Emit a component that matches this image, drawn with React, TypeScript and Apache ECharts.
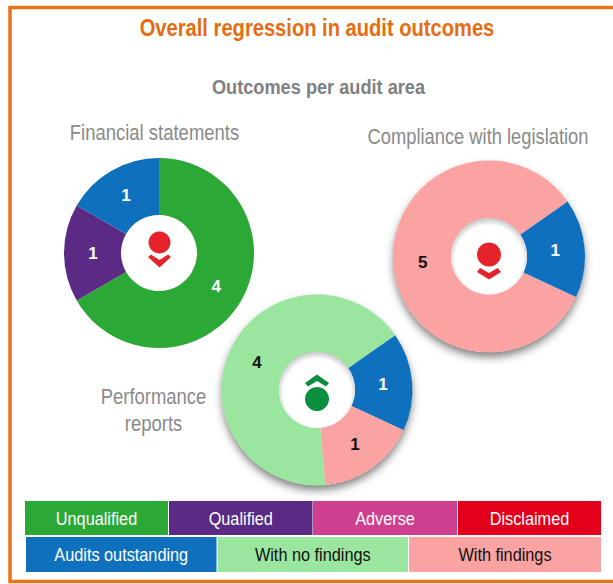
import React, { useEffect, useRef } from "react";
import * as echarts from "echarts";

const FONT = '"Liberation Sans", Arial, sans-serif';
const titleText = "Overall regression in audit outcomes";
const subtitleText = "Outcomes per audit area";
const legendRow1 = ["Unqualified", "Qualified", "Adverse", "Disclaimed"];
const legendRow2 = ["Audits outstanding", "With no findings", "With findings"];
const colors: Record<string, string> = {
  Unqualified: "#2ca836",
  Qualified: "#5a2a85",
  Adverse: "#cf3f8f",
  Disclaimed: "#e2001a",
  "Audits outstanding": "#0f71bd",
  "With no findings": "#9ae69f",
  "With findings": "#fba2a2",
};
const darkText = ["With no findings", "With findings"];
const financialNames = ["Unqualified", "Qualified", "Audits outstanding"];
const financialValues = [4, 1, 1];
const complianceNames = ["With findings", "Audits outstanding"];
const complianceValues = [5, 1];
const performanceNames = ["With no findings", "Audits outstanding", "With findings"];
const performanceValues = [4, 1, 1];

const pie = (names: string[], values: number[], center: number[], r: number, startAngle: number) => {
  const total = values.reduce((a, b) => a + b, 0);
  return {
    type: "pie",
    center,
    radius: [38, r],
    startAngle,
    clockwise: true,
    silent: true,
    avoidLabelOverlap: false,
    labelLine: { show: false },
    itemStyle: { borderWidth: 0 },
    // pull the value labels slightly towards the hole
    labelLayout: (p: any) => {
      const before = values.slice(0, p.dataIndex).reduce((a, b) => a + b, 0);
      const mid = ((startAngle - (360 * (before + values[p.dataIndex] / 2)) / total) * Math.PI) / 180;
      return { dx: -3.5 * Math.cos(mid), dy: 3.5 * Math.sin(mid) };
    },
    data: names.map((n, i) => ({
      name: n,
      value: values[i],
      itemStyle: { color: colors[n] },
      label: {
        show: true,
        position: "inside",
        formatter: "{c}",
        fontFamily: FONT,
        fontWeight: "bold",
        fontSize: 17,
        color: darkText.includes(n) ? "#111" : "#fff",
      },
    })),
  };
};

const backdrop = (cx: number, cy: number, r: number) => ({
  type: "circle",
  z: -1,
  shape: { cx, cy, r },
  style: { fill: "#fff", shadowBlur: 9, shadowOffsetY: 5, shadowColor: "rgba(0,0,0,0.5)" },
});

const holeShade = (cx: number, cy: number) => ({
  type: "circle",
  z: 5,
  shape: { cx, cy, r: 38 },
  style: {
    fill: {
      type: "radial",
      x: 0.5,
      y: 0.54,
      r: 0.54,
      colorStops: [
        { offset: 0, color: "#ffffff" },
        { offset: 0.82, color: "#ffffff" },
        { offset: 1, color: "#c4c4c4" },
      ],
    },
  },
});

const dot = (cx: number, cy: number, r: number, fill: string) => ({
  type: "circle",
  z: 6,
  shape: { cx, cy, r },
  style: { fill },
});

const arrow = (points: number[][], fill: string) => ({
  type: "polygon",
  z: 6,
  shape: { points },
  style: { fill },
});

const txt = (
  text: string,
  x: number,
  y: number,
  fontSize: number,
  fill: string,
  scaleX: number,
  fontWeight = "normal",
) => ({
  type: "text",
  z: 10,
  x,
  y,
  scaleX,
  style: { text, fill, fontSize, fontWeight, fontFamily: FONT, align: "center", verticalAlign: "middle" },
});

const legendCell = (name: string, x: number, y: number, w: number, h: number) => [
  { type: "rect", z: 8, shape: { x, y, width: w, height: h }, style: { fill: colors[name] } },
  txt(name, x + w / 2, y + h / 2 + 0.5, 18.5, darkText.includes(name) ? "#111" : "#fff", 0.88),
];

export default function App() {
  const ref = useRef<HTMLDivElement>(null);
  useEffect(() => {
    const chart = echarts.init(ref.current!, null, { renderer: "svg" });
    const row1X = [25, 169, 313, 458];
    const row1W = [143, 143.5, 144, 143];
    const row2X = [26, 217.5, 409];
    const row2W = [190.5, 190.5, 192];
    chart.setOption({
      animation: false,
      backgroundColor: "#fff",
      series: [
        pie(financialNames, financialValues, [159, 253], 95, 90),
        pie(complianceNames, complianceValues, [489, 256.5], 96, -25),
        pie(performanceNames, performanceValues, [317, 390], 95.5, -85),
      ],
      graphic: [
        {
          type: "rect",
          z: 9,
          shape: { x: 10, y: 7.5, width: 640, height: 574 },
          style: { fill: "transparent", stroke: "#e8731a", lineWidth: 3.5 },
        },
        txt(titleText, 317, 28, 23.5, "#e76c10", 0.857, "bold"),
        txt(subtitleText, 318.5, 87, 20.5, "#808080", 0.887, "bold"),
        txt("Financial statements", 154.5, 132, 22, "#8a8a8a", 0.84),
        txt("Compliance with legislation", 478, 136, 22, "#8a8a8a", 0.833),
        txt("Performance", 153.5, 396, 22, "#8a8a8a", 0.84),
        txt("reports", 153.5, 423, 22, "#8a8a8a", 0.84),
        backdrop(489, 256.5, 95.5),
        backdrop(317, 390, 95),
        holeShade(489, 256),
        holeShade(317, 389.5),
        dot(159.5, 242.5, 11, "#e5232b"),
        arrow([[148, 257], [151, 254.5], [159.5, 260], [168, 254.5], [171, 257], [159.5, 267.5]], "#e5232b"),
        dot(489, 254.5, 12, "#e5232b"),
        arrow([[477, 272], [480, 268], [489, 273], [497.5, 268], [501, 272], [489, 279.5]], "#e5232b"),
        dot(317, 399, 12, "#0a8f3f"),
        arrow([[305, 383], [317, 374.5], [329, 383], [326, 386.5], [317, 381], [308, 386.5]], "#0a8f3f"),
        ...legendRow1.flatMap((n, i) => legendCell(n, row1X[i], 501, row1W[i], 34)),
        ...legendRow2.flatMap((n, i) => legendCell(n, row2X[i], 537, row2W[i], 35)),
      ],
    });
    return () => chart.dispose();
  }, []);
  return <div ref={ref} style={{ position: "absolute", left: 0, top: 0, width: 613, height: 584 }} />;
}
